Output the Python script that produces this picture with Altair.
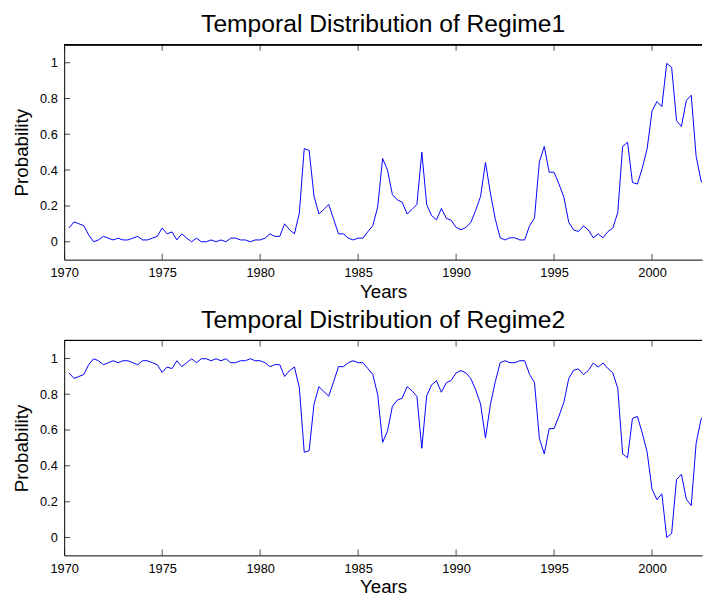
import altair as alt
import pandas as pd

# Quarterly observations starting 1970.25
start_year = 1970.25
step = 0.25

regime1 = [
    0.077, 0.111, 0.10, 0.09, 0.038, 0.0, 0.01, 0.03, 0.02, 0.01,
    0.02, 0.01, 0.01, 0.02, 0.03, 0.01, 0.01, 0.02, 0.03, 0.077,
    0.044, 0.055, 0.01, 0.044, 0.02, 0.0, 0.02, 0.0, 0.0, 0.01,
    0.0, 0.01, 0.0, 0.02, 0.02, 0.01, 0.01, 0.0, 0.01, 0.01,
    0.02, 0.044, 0.03, 0.03, 0.10, 0.067, 0.044, 0.16, 0.52, 0.51,
    0.254, 0.155, 0.18, 0.208, 0.126, 0.044, 0.044, 0.02, 0.01, 0.02,
    0.02, 0.057, 0.09, 0.195, 0.465, 0.40, 0.263, 0.234, 0.22, 0.155,
    0.18, 0.208, 0.50, 0.208, 0.146, 0.122, 0.186, 0.131, 0.12, 0.08,
    0.067, 0.08, 0.108, 0.175, 0.254, 0.443, 0.272, 0.126, 0.022, 0.01,
    0.022, 0.022, 0.01, 0.01, 0.09, 0.131, 0.446, 0.532, 0.388, 0.388,
    0.322, 0.249, 0.108, 0.066, 0.057, 0.088, 0.066, 0.022, 0.044, 0.022,
    0.057, 0.077, 0.163, 0.532, 0.555, 0.331, 0.322, 0.41, 0.52, 0.73,
    0.783, 0.754, 0.996, 0.974, 0.676, 0.644, 0.789, 0.818, 0.477, 0.34,
    0.30,
]

regime2 = [
    0.919, 0.888, 0.899, 0.91, 0.965, 0.998, 0.987, 0.965, 0.976, 0.987,
    0.976, 0.987, 0.987, 0.976, 0.965, 0.987, 0.987, 0.976, 0.965, 0.921,
    0.952, 0.943, 0.987, 0.954, 0.976, 0.998, 0.976, 0.998, 0.998, 0.987,
    0.998, 0.987, 0.998, 0.976, 0.976, 0.987, 0.987, 0.998, 0.987, 0.987,
    0.976, 0.954, 0.965, 0.965, 0.899, 0.932, 0.952, 0.837, 0.476, 0.485,
    0.745, 0.842, 0.815, 0.789, 0.87, 0.954, 0.954, 0.976, 0.987, 0.976,
    0.976, 0.943, 0.91, 0.797, 0.531, 0.595, 0.733, 0.767, 0.778, 0.842,
    0.819, 0.788, 0.498, 0.791, 0.852, 0.875, 0.811, 0.864, 0.877, 0.919,
    0.932, 0.919, 0.888, 0.824, 0.745, 0.555, 0.742, 0.87, 0.976, 0.987,
    0.976, 0.976, 0.987, 0.987, 0.91, 0.866, 0.553, 0.467, 0.608, 0.608,
    0.678, 0.755, 0.888, 0.934, 0.941, 0.91, 0.932, 0.974, 0.952, 0.974,
    0.943, 0.919, 0.833, 0.467, 0.445, 0.665, 0.676, 0.584, 0.476, 0.269,
    0.211, 0.244, 0.0, 0.022, 0.324, 0.353, 0.214, 0.178, 0.526, 0.66,
    0.70,
]

x_ticks = [1970, 1975, 1980, 1985, 1990, 1995, 2000]
y_ticks = [0, 0.2, 0.4, 0.6, 0.8, 1]
titles = ["Temporal Distribution of Regime1", "Temporal Distribution of Regime2"]

X_DOMAIN = [1970, 2002.55]
Y_DOMAIN = [-0.1, 1.1]
FONT = "Liberation Sans"
W, H = 647, 218


def panel(values, title):
    df = pd.DataFrame({
        "year": [start_year + i * step for i in range(len(values))],
        "p": values,
    })
    xt = pd.DataFrame({"year": x_ticks})
    yt = pd.DataFrame({"p": y_ticks})

    xscale = alt.Scale(domain=X_DOMAIN, nice=False, zero=False)
    yscale = alt.Scale(domain=Y_DOMAIN, nice=False, zero=False)

    line = alt.Chart(df).mark_line(color="#0000ff", strokeWidth=1, clip=True).encode(
        x=alt.X("year:Q", scale=xscale, title="Years",
                axis=alt.Axis(values=x_ticks, format="d", ticks=False, grid=False,
                              domain=True, domainColor="black", domainWidth=1,
                              labelFontSize=13, labelFont=FONT, labelColor="black",
                              labelPadding=7, labelFlush=False,
                              titleFontSize=19, titleFont=FONT, titleFontWeight="normal",
                              titleColor="black", titlePadding=3)),
        y=alt.Y("p:Q", scale=yscale, title="Probability",
                axis=alt.Axis(values=y_ticks, format=".1~f", ticks=False, grid=False,
                              domain=True, domainColor="black", domainWidth=1,
                              labelFontSize=13, labelFont=FONT, labelColor="black",
                              labelPadding=7, labelFlush=False,
                              titleFontSize=19, titleFont=FONT, titleFontWeight="normal",
                              titleColor="black", titlePadding=8)),
    )

    top_border = alt.Chart(xt).mark_rule(color="black", strokeWidth=1).encode(
        y=alt.datum(Y_DOMAIN[1], scale=yscale)
    )

    xtick_bottom = alt.Chart(xt).mark_tick(color="black", size=12, thickness=1,
                                           orient="vertical", clip=True).encode(
        x=alt.X("year:Q", scale=xscale), y=alt.datum(Y_DOMAIN[0])
    )
    xtick_top = alt.Chart(xt).mark_tick(color="black", size=12, thickness=1,
                                        orient="vertical", clip=True).encode(
        x=alt.X("year:Q", scale=xscale), y=alt.datum(Y_DOMAIN[1])
    )
    ytick_left = alt.Chart(yt).mark_tick(color="black", size=12, thickness=1,
                                         orient="horizontal", clip=True).encode(
        y=alt.Y("p:Q", scale=yscale), x=alt.datum(X_DOMAIN[0])
    )

    return alt.layer(line, top_border, xtick_bottom, xtick_top, ytick_left).properties(
        width=W, height=H,
        title=alt.TitleParams(title, fontSize=25, font=FONT, fontWeight="normal",
                              color="black", anchor="middle", frame="group", offset=7),
    )


chart = alt.vconcat(panel(regime1, titles[0]), panel(regime2, titles[1]), spacing=7).properties(
    padding={"left": 4, "top": 0, "right": 0, "bottom": 0},
    background="white",
).configure_view(stroke=None)

chart.save("out.html", embed_options={"renderer": "svg", "actions": False})
